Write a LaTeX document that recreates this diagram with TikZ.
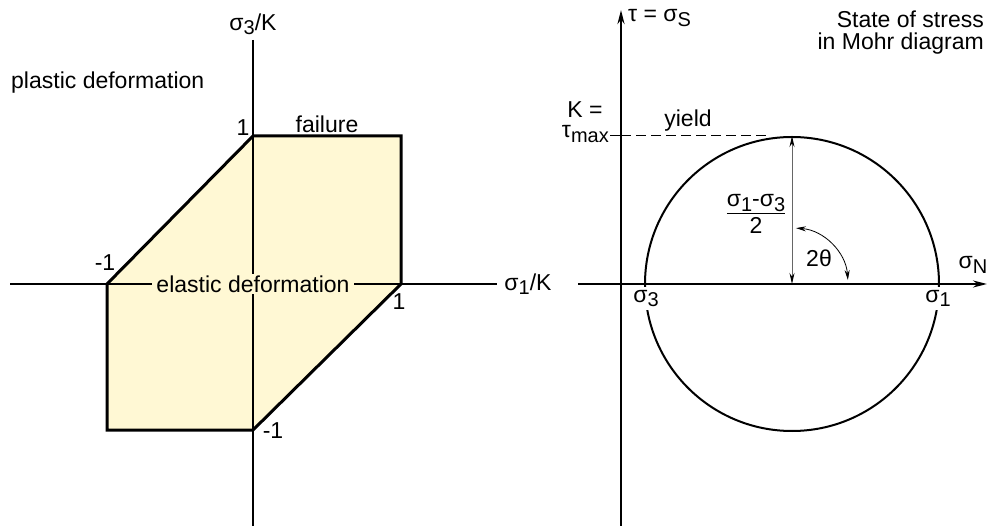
\documentclass[tikz,border=0pt]{standalone}
\usepackage{fontspec}
\setmainfont{Liberation Sans}
\usetikzlibrary{arrows.meta}
\definecolor{elast}{RGB}{255,248,212}
\newcommand\lo[1]{\raisebox{-0.35ex}{\fontsize{20}{20}\selectfont #1}}
\begin{document}
\begin{tikzpicture}[x=1pt,y=-1pt,
  font=\fontsize{23}{22}\selectfont,
  lbl/.style={inner sep=1pt},
  axis/.style={line width=2pt},
  poly/.style={line width=3pt,line join=miter},
  tip/.style={-{Stealth[length=14pt,width=7pt]}},
  thinarrow/.style={line width=1pt,black!60,{Stealth[length=11pt,width=5pt,black]}-{Stealth[length=11pt,width=5pt,black]}}]
\useasboundingbox (0,0) rectangle (988,526);
% ---------- left diagram ----------
\coordinate (A) at (253,136);
\coordinate (B) at (401,136);
\coordinate (Cc) at (401,284);
\coordinate (D) at (253,430);
\coordinate (E) at (107,430);
\coordinate (F) at (107,284);
\fill[elast] (A) -- (B) -- (Cc) -- (D) -- (E) -- (F) -- cycle;
\coordinate (xl) at (10,284);
\coordinate (xr) at (497,284);
\coordinate (yt) at (253,40);
\coordinate (yb) at (253,526);
\draw[axis] (xl) -- (xr);
\draw[axis] (yt) -- (yb);
\draw[poly] (A) -- (B) -- (Cc) -- (D) -- (E) -- (F) -- cycle;
\node[fill=elast,inner xsep=4pt,inner ysep=2pt] (el) at (253,284) {elastic deformation};
\node[lbl] (s3k) at (253,24) {σ\lo{3}/K};
\node[lbl] (s1k) at (528,284) {σ\lo{1}/K};
\node[lbl,anchor=base west] (pl) at (10,89) {plastic deformation};
\node[lbl] (t1) at (243,128) {1};
\node[lbl] (fa) at (327,124) {failure};
\node[lbl] (tm1) at (105,263) {-1};
\node[lbl] (r1) at (399,302) {1};
\node[lbl] (bm1) at (273,431) {-1};
% ---------- right diagram ----------
\coordinate (C) at (792,284);
\draw[line width=2pt] (C) circle[radius=147];
\coordinate (vb) at (621,526);
\coordinate (vt) at (621,10);
\coordinate (hl) at (578,284);
\coordinate (hr) at (987,284);
\draw[line width=2.5pt,tip] (vb) -- (vt);
\draw[axis,tip] (hl) -- (hr);
\node[fill=white,inner xsep=2pt,inner ysep=3pt,anchor=north] (s3) at (646,287) {σ\lo{3}};
\node[fill=white,inner xsep=2pt,inner ysep=3pt,anchor=north] (s1) at (938,287) {σ\lo{1}};
\node[lbl] (sN) at (973,265) {σ\lo{N}};
\node[lbl,anchor=west] (tau) at (627,18) {τ = σ\lo{S}};
\node[lbl,anchor=north east,align=right] (st) at (985,10) {State of stress\\in Mohr diagram};
\coordinate (top) at (792,136);
\coordinate (dl) at (610,136);
\coordinate (dr) at (766,136);
\draw[line width=1pt] (dl) -- (621,136);
\draw[line width=1pt,dash pattern=on 10pt off 5pt] (621,136) -- (dr);
\node[lbl] (K) at (585,110) {K =};
\node[lbl,anchor=east] (tmax) at (610,134) {τ\lo{max}};
\node[lbl] (yi) at (688,121) {yield};
\draw[thinarrow] (top) -- (C);
\node[lbl] (fr) at (756,216) {\setlength\arrayrulewidth{1.3pt}\begin{tabular}{@{}c@{}}σ\lo{1}-σ\lo{3}\\[-1pt]\hline\rule{0pt}{20pt}2\end{tabular}};
\draw[line width=0.8pt,{Stealth[length=10pt,width=5pt]}-{Stealth[length=10pt,width=5pt]}] (C) ++(-86:56) arc[start angle=-86,end angle=-4,radius=56];
\node[lbl] (th) at (819,258) {2θ};
\end{tikzpicture}
\end{document}
